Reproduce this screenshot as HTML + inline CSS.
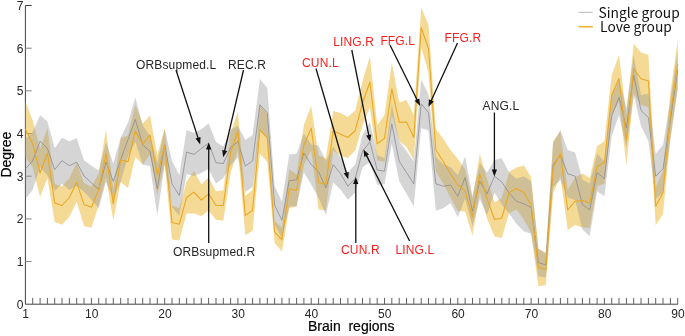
<!DOCTYPE html>
<html><head><meta charset="utf-8"><title>Degree by brain region</title>
<style>
html,body{margin:0;padding:0;background:#fff;}
body{width:685px;height:336px;overflow:hidden;}
svg{display:block;will-change:transform;}
text{font-family:"Liberation Sans",sans-serif;font-size:12px;fill:#262626;letter-spacing:0.15px;}
.red{fill:#f5201f;}
.tk{letter-spacing:0;}
.ax{letter-spacing:0;font-size:14px;fill:#000;stroke:#000;stroke-width:0.2px;}
.lg{letter-spacing:0;font-family:"Noto Sans CJK SC","DejaVu Sans",sans-serif;font-size:13.8px;fill:#111;}
.arr{stroke:#111;stroke-width:1.3;fill:none;}
.hd{fill:#111;stroke:none;}
</style></head><body>
<svg width="685" height="336" viewBox="0 0 685 336">
<rect width="685" height="336" fill="#fff"/>

<g stroke="#404040" stroke-width="1" fill="none">
<path d="M25.4 5.5V304.2H677.8"/>
</g>
<g stroke-width="1" fill="none">
<path stroke="#606060" d="M32.7 304.2v-6.3M40.1 304.2v-6.3M47.4 304.2v-6.3M54.7 304.2v-6.3M62.0 304.2v-6.3M69.4 304.2v-6.3M76.7 304.2v-6.3M84.0 304.2v-6.3M91.4 304.2v-6.3M98.7 304.2v-6.3M106.0 304.2v-6.3M113.3 304.2v-6.3M120.7 304.2v-6.3M128.0 304.2v-6.3M135.3 304.2v-6.3M142.7 304.2v-6.3M150.0 304.2v-6.3M157.3 304.2v-6.3M164.7 304.2v-6.3M172.0 304.2v-6.3M179.3 304.2v-6.3M186.6 304.2v-6.3M194.0 304.2v-6.3M201.3 304.2v-6.3M208.6 304.2v-6.3M216.0 304.2v-6.3M223.3 304.2v-6.3M230.6 304.2v-6.3M237.9 304.2v-6.3M245.3 304.2v-6.3M252.6 304.2v-6.3M259.9 304.2v-6.3M267.3 304.2v-6.3M274.6 304.2v-6.3M281.9 304.2v-6.3M289.2 304.2v-6.3M296.6 304.2v-6.3M303.9 304.2v-6.3M311.2 304.2v-6.3M318.6 304.2v-6.3M325.9 304.2v-6.3M333.2 304.2v-6.3M340.5 304.2v-6.3M347.9 304.2v-6.3M355.2 304.2v-6.3M362.5 304.2v-6.3M369.9 304.2v-6.3M377.2 304.2v-6.3M384.5 304.2v-6.3M391.8 304.2v-6.3M399.2 304.2v-6.3M406.5 304.2v-6.3M413.8 304.2v-6.3M421.2 304.2v-6.3M428.5 304.2v-6.3M435.8 304.2v-6.3M443.2 304.2v-6.3M450.5 304.2v-6.3M457.8 304.2v-6.3M465.1 304.2v-6.3M472.5 304.2v-6.3M479.8 304.2v-6.3M487.1 304.2v-6.3M494.5 304.2v-6.3M501.8 304.2v-6.3M509.1 304.2v-6.3M516.4 304.2v-6.3M523.8 304.2v-6.3M531.1 304.2v-6.3M538.4 304.2v-6.3M545.8 304.2v-6.3M553.1 304.2v-6.3M560.4 304.2v-6.3M567.7 304.2v-6.3M575.1 304.2v-6.3M582.4 304.2v-6.3M589.7 304.2v-6.3M597.1 304.2v-6.3M604.4 304.2v-6.3M611.7 304.2v-6.3M619.0 304.2v-6.3M626.4 304.2v-6.3M633.7 304.2v-6.3M641.0 304.2v-6.3M648.4 304.2v-6.3M655.7 304.2v-6.3M663.0 304.2v-6.3M670.4 304.2v-6.3M677.7 304.2v-6.3"/>
<path stroke="#858585" d="M25.4 261.5h6.3M25.4 218.9h6.3M25.4 176.2h6.3M25.4 133.5h6.3M25.4 90.8h6.3M25.4 48.2h6.3"/>
<path stroke="#404040" d="M25.4 5.5h6.3"/>
</g>
<polygon points="25.4,101.4 32.7,120.5 40.1,149.0 47.4,128.0 54.7,183.9 62.0,186.2 69.4,178.2 76.7,162.8 84.0,183.1 91.4,186.8 98.7,173.5 106.0,129.8 113.3,189.2 120.7,138.0 128.0,135.5 135.3,105.0 142.7,123.4 150.0,115.4 157.3,155.2 164.7,127.9 172.0,205.5 179.3,208.2 186.6,181.4 194.0,170.8 201.3,184.5 208.6,177.4 216.0,191.2 223.3,190.3 230.6,132.9 237.9,111.8 245.3,195.9 252.6,189.8 259.9,105.8 267.3,113.9 274.6,220.8 281.9,227.8 289.2,169.2 296.6,174.5 303.9,125.0 311.2,105.7 318.6,155.5 325.9,158.3 333.2,111.0 340.5,112.9 347.9,117.0 355.2,110.5 362.5,81.5 369.9,56.3 377.2,125.4 384.5,115.0 391.8,62.5 399.2,102.5 406.5,100.0 413.8,115.0 421.2,7.5 428.5,25.0 435.8,128.8 443.2,138.8 450.5,150.0 457.8,159.0 465.1,169.5 472.5,198.5 479.8,154.0 487.1,178.8 494.5,202.5 501.8,198.0 509.1,172.0 516.4,167.5 523.8,165.5 531.1,177.0 538.4,248.8 545.8,254.0 553.1,141.5 560.4,131.2 567.7,190.0 575.1,177.5 582.4,173.5 589.7,178.0 597.1,146.2 604.4,141.2 611.7,75.0 619.0,55.0 626.4,115.0 633.7,43.8 641.0,52.5 648.4,54.8 655.7,187.2 663.0,171.0 670.4,93.0 677.7,40.0 677.7,88.0 670.4,137.0 663.0,214.0 655.7,225.2 648.4,107.2 641.0,105.0 633.7,93.8 626.4,165.0 619.0,102.0 611.7,115.0 604.4,183.8 597.1,186.2 589.7,228.0 582.4,227.5 575.1,225.0 567.7,230.0 560.4,176.2 553.1,193.5 545.8,285.0 538.4,286.2 531.1,233.0 523.8,219.5 516.4,209.5 509.1,213.0 501.8,238.0 494.5,236.5 487.1,218.8 479.8,192.5 472.5,235.5 465.1,211.5 457.8,211.0 450.5,197.5 443.2,183.8 435.8,171.2 428.5,72.5 421.2,47.5 413.8,160.0 406.5,147.0 399.2,141.0 391.8,115.0 384.5,161.8 377.2,160.5 369.9,107.0 362.5,125.5 355.2,150.5 347.9,158.0 340.5,155.7 333.2,150.4 325.9,210.3 318.6,209.5 311.2,150.3 303.9,165.0 296.6,206.5 289.2,208.3 281.9,251.8 274.6,242.8 267.3,161.9 259.9,153.8 252.6,230.8 245.3,235.3 237.9,150.2 230.6,172.9 223.3,220.7 216.0,219.8 208.6,210.4 201.3,215.9 194.0,213.4 186.6,213.6 179.3,240.4 172.0,239.5 164.7,163.5 157.3,195.2 150.0,154.6 142.7,164.6 135.3,157.0 128.0,188.1 120.7,182.0 113.3,220.5 106.0,177.8 98.7,205.5 91.4,227.8 84.0,226.1 76.7,201.8 69.4,216.8 62.0,224.8 54.7,221.9 47.4,178.0 40.1,197.0 32.7,167.3 25.4,157.2" fill="rgb(235,181,45)" fill-opacity="0.5"/>
<polygon points="25.4,138.9 32.7,132.0 40.1,115.3 47.4,121.6 54.7,148.2 62.0,137.7 69.4,141.3 76.7,138.2 84.0,160.2 91.4,165.8 98.7,170.6 106.0,142.0 113.3,163.6 120.7,137.7 128.0,122.5 135.3,97.5 142.7,125.3 150.0,136.0 157.3,162.7 164.7,129.0 172.0,161.0 179.3,175.0 186.6,129.9 194.0,132.9 201.3,129.2 208.6,123.5 216.0,142.0 223.3,146.6 230.6,129.5 237.9,126.0 245.3,140.0 252.6,135.0 259.9,78.9 267.3,87.9 274.6,186.0 281.9,201.4 289.2,154.7 296.6,153.5 303.9,133.4 311.2,144.6 318.6,145.8 325.9,160.9 333.2,146.7 340.5,157.6 347.9,172.6 355.2,164.5 362.5,135.0 369.9,122.0 377.2,155.0 384.5,158.2 391.8,104.0 399.2,141.2 406.5,151.2 413.8,161.2 421.2,79.5 428.5,94.5 435.8,156.8 443.2,164.2 450.5,167.0 457.8,175.2 465.1,156.5 472.5,196.2 479.8,163.2 487.1,172.5 494.5,160.0 501.8,158.2 509.1,172.5 516.4,178.8 523.8,176.2 531.1,181.2 538.4,248.8 545.8,252.5 553.1,143.0 560.4,130.0 567.7,150.0 575.1,152.5 582.4,179.5 589.7,183.8 597.1,153.8 604.4,161.2 611.7,96.0 619.0,80.0 626.4,108.0 633.7,55.0 641.0,95.0 648.4,93.8 655.7,153.8 663.0,145.0 670.4,100.0 677.7,50.0 677.7,90.0 670.4,140.0 663.0,192.5 655.7,198.8 648.4,141.2 641.0,126.0 633.7,95.0 626.4,148.0 619.0,115.0 611.7,136.0 604.4,196.2 597.1,191.2 589.7,236.2 582.4,229.5 575.1,200.0 567.7,197.5 560.4,180.0 553.1,187.0 545.8,277.5 538.4,276.2 531.1,233.8 523.8,231.2 516.4,223.8 509.1,213.5 501.8,204.5 494.5,192.5 487.1,215.0 479.8,199.2 472.5,226.2 465.1,198.8 457.8,217.2 450.5,203.0 443.2,208.2 435.8,210.8 428.5,130.5 421.2,128.0 413.8,206.2 406.5,193.8 399.2,181.2 391.8,143.8 384.5,184.2 377.2,185.0 369.9,162.0 362.5,167.5 355.2,192.5 347.9,199.8 340.5,189.6 333.2,182.5 325.9,214.9 318.6,197.8 311.2,184.6 303.9,172.6 296.6,206.1 289.2,206.7 281.9,239.0 274.6,224.0 267.3,137.9 259.9,130.7 252.6,187.0 245.3,192.0 237.9,157.2 230.6,165.5 223.3,178.0 216.0,183.4 208.6,169.0 201.3,173.0 194.0,175.9 186.6,174.1 179.3,216.0 172.0,207.0 164.7,164.8 157.3,215.5 150.0,166.0 142.7,164.7 135.3,141.5 128.0,156.5 120.7,181.3 113.3,199.2 106.0,182.0 98.7,208.2 91.4,199.8 84.0,191.8 76.7,186.0 69.4,190.1 62.0,183.7 54.7,191.0 47.4,175.2 40.1,167.2 32.7,190.0 25.4,198.9" fill="rgb(150,150,150)" fill-opacity="0.4"/>
<polyline points="25.4,168.9 32.7,161.0 40.1,141.2 47.4,148.4 54.7,169.6 62.0,160.7 69.4,165.7 76.7,162.1 84.0,176.0 91.4,182.8 98.7,189.4 106.0,162.0 113.3,181.4 120.7,159.5 128.0,139.5 135.3,119.5 142.7,145.0 150.0,151.4 157.3,188.6 164.7,144.8 172.0,184.0 179.3,195.5 186.6,152.0 194.0,154.4 201.3,148.5 208.6,143.1 216.0,162.7 223.3,163.6 230.6,147.5 237.9,141.6 245.3,166.0 252.6,161.0 259.9,104.8 267.3,112.9 274.6,205.0 281.9,220.2 289.2,180.7 296.6,179.8 303.9,153.0 311.2,164.6 318.6,171.8 325.9,187.9 333.2,164.6 340.5,173.6 347.9,186.2 355.2,178.5 362.5,151.2 369.9,142.0 377.2,170.0 384.5,171.2 391.8,123.8 399.2,161.2 406.5,172.5 413.8,183.8 421.2,103.8 428.5,112.5 435.8,183.8 443.2,186.2 450.5,185.0 457.8,196.2 465.1,177.5 472.5,211.2 479.8,181.2 487.1,193.8 494.5,176.2 501.8,182.0 509.1,193.0 516.4,201.2 523.8,203.8 531.1,207.5 538.4,262.5 545.8,265.0 553.1,165.0 560.4,155.0 567.7,173.8 575.1,176.2 582.4,204.5 589.7,210.0 597.1,172.5 604.4,178.8 611.7,116.0 619.0,97.5 626.4,128.0 633.7,75.0 641.0,110.5 648.4,117.5 655.7,176.2 663.0,168.8 670.4,120.0 677.7,70.0" fill="none" stroke="#86888f" stroke-width="0.75" stroke-linejoin="round"/>
<polyline points="25.4,129.3 32.7,143.9 40.1,173.0 47.4,153.0 54.7,202.9 62.0,205.5 69.4,197.5 76.7,182.3 84.0,204.6 91.4,207.3 98.7,189.5 106.0,153.8 113.3,203.8 120.7,160.0 128.0,161.8 135.3,131.0 142.7,144.0 150.0,135.0 157.3,175.2 164.7,145.7 172.0,222.5 179.3,224.3 186.6,197.5 194.0,192.1 201.3,200.2 208.6,193.9 216.0,205.5 223.3,205.5 230.6,152.9 237.9,131.0 245.3,215.6 252.6,210.3 259.9,129.8 267.3,137.9 274.6,231.8 281.9,239.8 289.2,188.8 296.6,190.5 303.9,145.0 311.2,128.0 318.6,182.5 325.9,184.3 333.2,130.7 340.5,134.3 347.9,137.5 355.2,130.5 362.5,103.0 369.9,82.0 377.2,143.8 384.5,138.4 391.8,88.8 399.2,122.3 406.5,122.0 413.8,137.5 421.2,27.5 428.5,48.8 435.8,150.0 443.2,161.2 450.5,173.8 457.8,185.0 465.1,190.5 472.5,217.0 479.8,173.8 487.1,198.8 494.5,219.5 501.8,218.0 509.1,192.5 516.4,188.5 523.8,192.5 531.1,205.0 538.4,267.5 545.8,269.5 553.1,167.5 560.4,153.8 567.7,210.0 575.1,201.2 582.4,200.5 589.7,203.0 597.1,166.2 604.4,162.5 611.7,95.0 619.0,78.5 626.4,140.0 633.7,68.8 641.0,78.8 648.4,81.0 655.7,206.2 663.0,192.5 670.4,115.0 677.7,64.0" fill="none" stroke="#eaa823" stroke-width="1.1" stroke-linejoin="round"/>
<text x="23.4" y="308.6" text-anchor="end" class="tk">0</text>
<text x="23.4" y="265.9" text-anchor="end" class="tk">1</text>
<text x="23.4" y="223.3" text-anchor="end" class="tk">2</text>
<text x="23.4" y="180.6" text-anchor="end" class="tk">3</text>
<text x="23.4" y="137.9" text-anchor="end" class="tk">4</text>
<text x="23.4" y="95.2" text-anchor="end" class="tk">5</text>
<text x="23.4" y="52.6" text-anchor="end" class="tk">6</text>
<text x="23.4" y="9.9" text-anchor="end" class="tk">7</text>
<text x="25.7" y="318" text-anchor="middle" class="tk">1</text>
<text x="91.7" y="318" text-anchor="middle" class="tk">10</text>
<text x="165.0" y="318" text-anchor="middle" class="tk">20</text>
<text x="238.2" y="318" text-anchor="middle" class="tk">30</text>
<text x="311.5" y="318" text-anchor="middle" class="tk">40</text>
<text x="384.8" y="318" text-anchor="middle" class="tk">50</text>
<text x="458.1" y="318" text-anchor="middle" class="tk">60</text>
<text x="531.4" y="318" text-anchor="middle" class="tk">70</text>
<text x="604.7" y="318" text-anchor="middle" class="tk">80</text>
<text x="678.0" y="318" text-anchor="middle" class="tk">90</text>
<text class="ax" x="308" y="331.1" xml:space="preserve">Brain  regions</text>
<text class="ax" transform="translate(11.3 177.6) rotate(-90)">Degree</text>
<path d="M578.5 12.4H592.8" stroke="#c2c4ca" stroke-width="1.2"/>
<path d="M578.5 26.7H592.8" stroke="#efb430" stroke-width="1.6"/>
<text class="lg" x="598.6" y="17.8">Single group</text>
<text class="lg" x="600.1" y="32.4">Love group</text>
<path class="arr" d="M176.0 70.0L198.6 139.6"/><polygon class="hd" points="200.2,144.4 195.5,138.5 200.5,136.9"/>
<path class="arr" d="M243.5 70.0L224.3 152.4"/><polygon class="hd" points="223.2,157.3 222.2,149.9 227.3,151.1"/>
<path class="arr" d="M208.7 243.0L208.7 147.4"/><polygon class="hd" points="208.7,142.4 211.3,149.4 206.0,149.4"/>
<path class="arr" d="M316.0 68.5L346.8 174.5"/><polygon class="hd" points="348.2,179.3 343.7,173.3 348.8,171.9"/>
<path class="arr" d="M351.8 50.0L369.1 136.9"/><polygon class="hd" points="370.1,141.8 366.1,135.4 371.3,134.4"/>
<path class="arr" d="M390.0 45.0L417.9 101.5"/><polygon class="hd" points="420.1,105.9 414.6,100.8 419.3,98.5"/>
<path class="arr" d="M457.5 43.0L430.5 102.2"/><polygon class="hd" points="428.5,106.7 428.9,99.3 433.8,101.5"/>
<path class="arr" d="M494.4 112.5L494.4 171.6"/><polygon class="hd" points="494.4,176.6 491.8,169.6 497.0,169.6"/>
<path class="arr" d="M355.8 243.0L355.8 181.9"/><polygon class="hd" points="355.8,176.9 358.4,183.9 353.1,183.9"/>
<path class="arr" d="M409.6 241.0L365.7 153.9"/><polygon class="hd" points="363.5,149.5 369.0,154.5 364.3,156.9"/>
<text x="136" y="68.5">ORBsupmed.L</text>
<text x="228" y="68.5">REC.R</text>
<text x="173" y="255.6">ORBsupmed.R</text>
<text x="482.5" y="109.5">ANG.L</text>
<text class="red" x="302" y="66.5">CUN.L</text>
<text class="red" x="333.2" y="46">LING.R</text>
<text class="red" x="380.4" y="45">FFG.L</text>
<text class="red" x="444.5" y="42">FFG.R</text>
<text class="red" x="341" y="253.6">CUN.R</text>
<text class="red" x="395.5" y="253.6">LING.L</text>
</svg></body></html>
